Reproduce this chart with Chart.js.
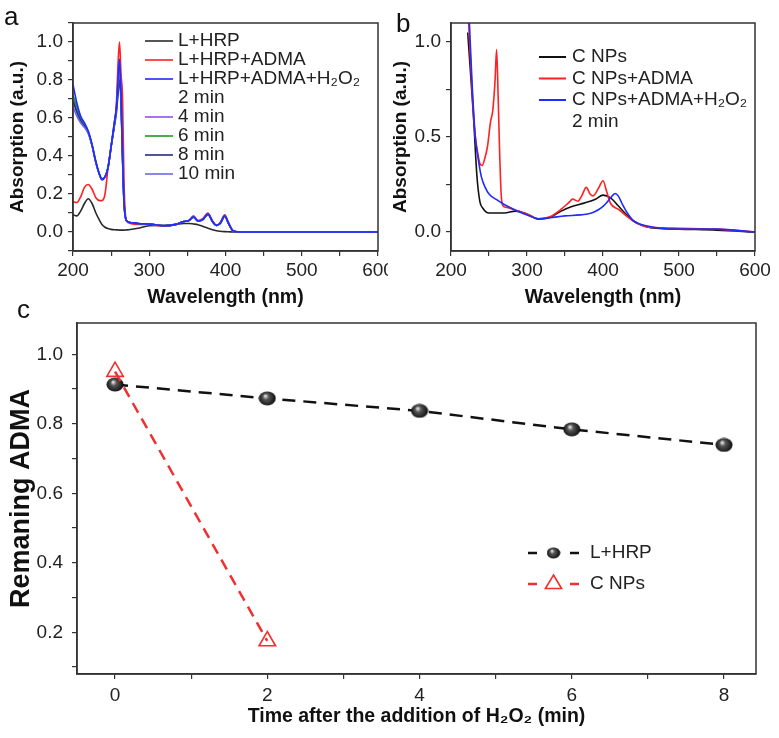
<!DOCTYPE html>
<html>
<head>
<meta charset="utf-8">
<script src="https://cdn.jsdelivr.net/npm/chart.js@4.4.1/dist/chart.umd.min.js"></script>
<style>
  body { margin: 0; background: #fff; width: 779px; height: 738px; position: relative; overflow: hidden; }
  canvas { position: absolute; }
</style>
</head>
<body>
<canvas id="chartA" width="388" height="310" style="left:0;top:0"></canvas>
<canvas id="chartB" width="396" height="310" style="left:383px;top:0"></canvas>
<canvas id="chartC" width="779" height="438" style="left:0;top:300px"></canvas>
<script>
// ---- panel a: L+HRP spectra ----
const wlA = [200, 205, 210, 215, 220, 225, 230, 235, 238, 242, 246, 250, 254, 257, 259, 261, 263, 265, 267, 270, 275, 285, 300, 320, 335, 345, 352, 358, 364, 370, 377, 383, 388, 393, 399, 404, 410, 420, 600];
const absLHRP = [0.09, 0.085, 0.11, 0.15, 0.175, 0.15, 0.10, 0.06, 0.04, 0.025, 0.018, 0.014, 0.012, 0.011, 0.011, 0.010, 0.010, 0.010, 0.010, 0.011, 0.013, 0.020, 0.033, 0.035, 0.040, 0.045, 0.045, 0.042, 0.038, 0.030, 0.020, 0.012, 0.007, 0.004, 0.002, 0.001, 0, 0, 0];
const absADMA = [0.16, 0.155, 0.185, 0.235, 0.25, 0.225, 0.18, 0.165, 0.165, 0.20, 0.34, 0.45, 0.56, 0.68, 0.88, 1.0, 0.83, 0.70, 0.25, 0.06, 0.045, 0.04, 0.04, 0.03, 0.04, 0.055, 0.06, 0.085, 0.06, 0.07, 0.10, 0.06, 0.035, 0.05, 0.09, 0.05, 0.008, 0, 0];
const abs2min = [0.775, 0.68, 0.61, 0.575, 0.53, 0.46, 0.37, 0.30, 0.275, 0.29, 0.34, 0.45, 0.57, 0.66, 0.80, 0.91, 0.72, 0.40, 0.15, 0.06, 0.05, 0.045, 0.042, 0.033, 0.04, 0.055, 0.06, 0.08, 0.058, 0.065, 0.095, 0.055, 0.035, 0.045, 0.085, 0.045, 0.006, 0, 0];
const abs4min = [0.70, 0.64, 0.59, 0.56, 0.525, 0.455, 0.365, 0.30, 0.275, 0.29, 0.34, 0.45, 0.57, 0.66, 0.79, 0.90, 0.71, 0.40, 0.15, 0.06, 0.05, 0.045, 0.042, 0.033, 0.04, 0.055, 0.06, 0.08, 0.058, 0.065, 0.095, 0.055, 0.035, 0.045, 0.085, 0.045, 0.006, 0, 0];
const abs6min = [0.72, 0.66, 0.60, 0.57, 0.53, 0.46, 0.37, 0.30, 0.278, 0.29, 0.34, 0.45, 0.56, 0.65, 0.76, 0.86, 0.70, 0.39, 0.15, 0.06, 0.05, 0.045, 0.042, 0.033, 0.04, 0.055, 0.06, 0.078, 0.057, 0.064, 0.093, 0.054, 0.035, 0.045, 0.083, 0.044, 0.006, 0, 0];
const abs8min = [0.69, 0.63, 0.585, 0.555, 0.52, 0.455, 0.365, 0.30, 0.28, 0.29, 0.34, 0.45, 0.55, 0.63, 0.72, 0.80, 0.68, 0.38, 0.15, 0.06, 0.05, 0.045, 0.042, 0.033, 0.04, 0.055, 0.06, 0.078, 0.057, 0.064, 0.093, 0.054, 0.035, 0.045, 0.083, 0.044, 0.006, 0, 0];
const abs10min = [0.66, 0.61, 0.575, 0.55, 0.52, 0.455, 0.365, 0.30, 0.275, 0.29, 0.34, 0.45, 0.56, 0.65, 0.78, 0.88, 0.70, 0.39, 0.15, 0.06, 0.05, 0.045, 0.042, 0.033, 0.04, 0.055, 0.06, 0.08, 0.058, 0.065, 0.095, 0.055, 0.035, 0.045, 0.085, 0.045, 0.006, 0, 0];

// ---- panel b: C NPs spectra ----
const wlCNP = [222, 226, 230, 234, 238, 242, 246, 250, 260, 270, 285, 300, 315, 330, 345, 360, 375, 390, 400, 410, 420, 430, 440, 460, 480, 500, 550, 600];
const absCNP = [1.05, 0.82, 0.58, 0.30, 0.16, 0.125, 0.106, 0.10, 0.10, 0.10, 0.11, 0.095, 0.068, 0.076, 0.11, 0.135, 0.152, 0.172, 0.194, 0.18, 0.138, 0.095, 0.058, 0.025, 0.018, 0.015, 0.01, 0.0];
const wlCNPADMA = [223, 227, 231, 235, 238, 241, 244, 248, 252, 255, 258, 260, 262, 264, 266, 268, 272, 285, 300, 315, 330, 345, 355, 360, 367, 372, 378, 383, 387, 394, 400, 405, 410, 420, 440, 460, 500, 550, 600];
const absCNPADMA = [1.12, 0.80, 0.54, 0.42, 0.36, 0.35, 0.38, 0.45, 0.58, 0.64, 0.80, 0.96, 0.72, 0.42, 0.20, 0.14, 0.13, 0.115, 0.095, 0.07, 0.08, 0.12, 0.155, 0.173, 0.162, 0.19, 0.235, 0.20, 0.19, 0.23, 0.27, 0.21, 0.15, 0.12, 0.058, 0.025, 0.02, 0.015, 0.0];
const wlCNPH2O2 = [224, 228, 232, 236, 240, 245, 250, 260, 270, 285, 300, 315, 330, 350, 370, 385, 395, 400, 405, 410, 416, 420, 425, 432, 440, 460, 500, 550, 600];
const absCNPH2O2 = [1.12, 0.76, 0.50, 0.38, 0.29, 0.235, 0.20, 0.17, 0.145, 0.115, 0.09, 0.07, 0.075, 0.085, 0.09, 0.10, 0.12, 0.135, 0.155, 0.18, 0.203, 0.19, 0.15, 0.10, 0.06, 0.03, 0.015, 0.015, 0.0];

// ---- panel c: remaining ADMA ----
const timeLHRP = [0, 2, 4, 6, 8];
const remainLHRP = [0.913, 0.873, 0.837, 0.784, 0.739];
const timeCNP = [0, 2];
const remainCNP = [0.95, 0.175];

const FONT = '"Liberation Sans", Arial, sans-serif';

function pts(xs, ys) {
  return xs.map((x, i) => ({ x: x, y: ys[i] }));
}

function spectrum(label, xs, ys, color, order) {
  return {
    label: label,
    data: pts(xs, ys),
    borderColor: color,
    borderWidth: 1.6,
    pointRadius: 0,
    fill: false,
    cubicInterpolationMode: 'monotone',
    order: order
  };
}

function makeScale(o) {
  return {
    type: 'linear',
    min: o.min,
    max: o.max,
    afterFit: function (scale) {
      if (scale.isHorizontal()) scale.height = o.size;
      else scale.width = o.size;
      scale.paddingLeft = 0;
      scale.paddingRight = 0;
      scale.paddingTop = 0;
      scale.paddingBottom = 0;
    },
    border: { display: true, color: '#333', width: 1.5 },
    grid: { drawOnChartArea: false, drawTicks: true, tickLength: 5, color: '#333', lineWidth: 1.2 },
    ticks: {
      stepSize: o.step,
      includeBounds: false,
      autoSkip: false,
      maxRotation: 0,
      padding: o.pad,
      color: '#222',
      font: { family: FONT, size: o.tickSize },
      callback: o.label
    },
    title: {
      display: true,
      text: o.title,
      color: '#111',
      font: { family: FONT, size: o.titleSize, weight: 'bold' },
      padding: o.titlePad
    }
  };
}

// frame, panel letter and legend
const decor = {
  id: 'decor',
  afterDraw(chart, args, opts) {
    const ctx = chart.ctx;
    const a = chart.chartArea;
    ctx.save();
    ctx.strokeStyle = '#333';
    ctx.lineWidth = 1.5;
    ctx.setLineDash([]);
    ctx.strokeRect(a.left, a.top, a.right - a.left, a.bottom - a.top);

    ctx.fillStyle = '#111';
    ctx.font = '26px ' + FONT;
    ctx.textBaseline = 'alphabetic';
    ctx.fillText(opts.letter, opts.letterX, opts.letterY);

    ctx.font = opts.legendSize + 'px ' + FONT;
    ctx.textBaseline = 'middle';
    opts.items.forEach((item, i) => {
      const y = opts.legendY + i * opts.legendGap;
      if (item.color) {
        ctx.strokeStyle = item.color;
        ctx.lineWidth = opts.lineWidth;
        if (item.marker) {
          ctx.beginPath();
          ctx.moveTo(opts.lineX0, y);
          ctx.lineTo(opts.lineX0 + 9, y);
          ctx.moveTo(opts.lineX1 - 9, y);
          ctx.lineTo(opts.lineX1, y);
          ctx.stroke();
          const mx = (opts.lineX0 + opts.lineX1) / 2;
          if (item.marker === 'sphere') {
            ctx.drawImage(sphere, mx - 7, y - 6, 14, 12);
          } else {
            const r = 9;
            ctx.lineWidth = 1.6;
            ctx.beginPath();
            ctx.moveTo(mx, y - r);
            ctx.lineTo(mx + r * 0.9, y + r / 2);
            ctx.lineTo(mx - r * 0.9, y + r / 2);
            ctx.closePath();
            ctx.stroke();
          }
        } else {
          ctx.beginPath();
          ctx.moveTo(opts.lineX0, y);
          ctx.lineTo(opts.lineX1, y);
          ctx.stroke();
        }
      }
      ctx.fillStyle = '#222';
      ctx.fillText(item.text, opts.textX, y);
    });
    ctx.restore();
  }
};

function makeSphere() {
  const c = document.createElement('canvas');
  c.width = 18;
  c.height = 15;
  const g = c.getContext('2d');
  const grad = g.createRadialGradient(7, 5, 0.5, 9, 7.5, 9);
  grad.addColorStop(0, '#e0e0e0');
  grad.addColorStop(0.3, '#555');
  grad.addColorStop(1, '#050505');
  g.fillStyle = grad;
  g.beginPath();
  g.ellipse(9, 7.5, 8.5, 7, 0, 0, Math.PI * 2);
  g.fill();
  return c;
}
const sphere = makeSphere();

const baseOptions = {
  responsive: false,
  animation: false,
  events: []
};

const labelA_Y = (v) => {
  const k = Math.round(v * 10);
  return (k % 2 === 0 && k >= 0 && k <= 10) ? (k / 10).toFixed(1) : '';
};
const labelWl = (v) => (v % 100 === 0 ? String(v) : '');

new Chart(document.getElementById('chartA'), {
  type: 'line',
  data: {
    datasets: [
      spectrum('L+HRP+ADMA+H\u2082O\u2082 2 min', wlA, abs2min, '#1f2bff', 0),
      spectrum('10 min', wlA, abs10min, '#6a6af0', 1),
      spectrum('8 min', wlA, abs8min, '#2a2a80', 2),
      spectrum('6 min', wlA, abs6min, '#1c9a1c', 3),
      spectrum('4 min', wlA, abs4min, '#9050f0', 4),
      spectrum('L+HRP+ADMA', wlA, absADMA, '#ff2020', 5),
      spectrum('L+HRP', wlA, absLHRP, '#2a2a2a', 6)
    ]
  },
  options: Object.assign({}, baseOptions, {
    layout: { padding: { left: 0, top: 23, right: 10, bottom: 0 } },
    scales: {
      x: makeScale({ min: 200, max: 600, step: 50, size: 59, pad: 3, tickSize: 19, label: labelWl,
        title: 'Wavelength (nm)', titleSize: 19.5, titlePad: { top: 0, bottom: 1 } }),
      y: makeScale({ min: -0.1, max: 1.1, step: 0.1, size: 73, pad: 5, tickSize: 19, label: labelA_Y,
        title: 'Absorption (a.u.)', titleSize: 19, titlePad: { top: 6, bottom: 0 } })
    },
    plugins: {
      legend: { display: false },
      tooltip: { enabled: false },
      decor: {
        letter: 'a', letterX: 4, letterY: 25,
        legendSize: 19, legendY: 41, legendGap: 19, lineX0: 145, lineX1: 173, textX: 178, lineWidth: 1.6,
        items: [
          { text: 'L+HRP', color: '#2a2a2a' },
          { text: 'L+HRP+ADMA', color: '#ff2020' },
          { text: 'L+HRP+ADMA+H\u2082O\u2082', color: '#1f2bff' },
          { text: '2 min' },
          { text: '4 min', color: '#9050f0' },
          { text: '6 min', color: '#1c9a1c' },
          { text: '8 min', color: '#2a2a80' },
          { text: '10 min', color: '#6a6af0' }
        ]
      }
    }
  }),
  plugins: [decor]
});

new Chart(document.getElementById('chartB'), {
  type: 'line',
  data: {
    datasets: [
      spectrum('C NPs+ADMA+H\u2082O\u2082 2 min', wlCNPH2O2, absCNPH2O2, '#1f2bff', 0),
      spectrum('C NPs+ADMA', wlCNPADMA, absCNPADMA, '#ff2020', 1),
      spectrum('C NPs', wlCNP, absCNP, '#111111', 2)
    ]
  },
  options: Object.assign({}, baseOptions, {
    layout: { padding: { left: 0, top: 23, right: 24, bottom: 0 } },
    scales: {
      x: makeScale({ min: 200, max: 600, step: 50, size: 59, pad: 3, tickSize: 19, label: labelWl,
        title: 'Wavelength (nm)', titleSize: 19.5, titlePad: { top: 0, bottom: 1 } }),
      y: makeScale({ min: -0.1, max: 1.1, step: 0.25, size: 68, pad: 5, tickSize: 19,
        label: (v) => (Math.round(v * 4) % 2 === 0 ? v.toFixed(1) : ''),
        title: 'Absorption (a.u.)', titleSize: 19, titlePad: { top: 6, bottom: 0 } })
    },
    plugins: {
      legend: { display: false },
      tooltip: { enabled: false },
      decor: {
        letter: 'b', letterX: 13, letterY: 32,
        legendSize: 19, legendY: 57, legendGap: 21.5, lineX0: 156, lineX1: 183, textX: 189, lineWidth: 2,
        items: [
          { text: 'C NPs', color: '#111111' },
          { text: 'C NPs+ADMA', color: '#ff2020' },
          { text: 'C NPs+ADMA+H\u2082O\u2082', color: '#1f2bff' },
          { text: '2 min' }
        ]
      }
    }
  }),
  plugins: [decor]
});

new Chart(document.getElementById('chartC'), {
  type: 'line',
  data: {
    datasets: [
      {
        label: 'C NPs',
        data: pts(timeCNP, remainCNP),
        borderColor: '#f03030',
        borderWidth: 2.5,
        borderDash: [11, 7],
        pointStyle: 'triangle',
        pointRadius: 9.5,
        pointBorderWidth: 1.6,
        pointBorderColor: '#f03030',
        pointBackgroundColor: 'rgba(255,255,255,0)',
        fill: false,
        order: 0
      },
      {
        label: 'L+HRP',
        data: pts(timeLHRP, remainLHRP),
        borderColor: '#111111',
        borderWidth: 2.5,
        borderDash: [13, 8],
        pointStyle: sphere,
        pointRadius: 8,
        fill: false,
        order: 1
      }
    ]
  },
  options: Object.assign({}, baseOptions, {
    layout: { padding: { left: 0, top: 23, right: 23, bottom: 0 } },
    scales: {
      x: makeScale({ min: -0.5, max: 8.42, step: 1, size: 64, pad: 5, tickSize: 19,
        label: (v) => (v % 2 === 0 ? String(v) : ''),
        title: 'Time after the addition of H\u2082O\u2082 (min)', titleSize: 19.5, titlePad: { top: 0, bottom: 10 } }),
      y: makeScale({ min: 0.08, max: 1.09, step: 0.1, size: 77, pad: 9, tickSize: 19,
        label: (v) => { const k = Math.round(v * 10); return k % 2 === 0 ? (k / 10).toFixed(1) : ''; },
        title: 'Remaning ADMA', titleSize: 27, titlePad: { top: 5, bottom: 0 } })
    },
    plugins: {
      legend: { display: false },
      tooltip: { enabled: false },
      decor: {
        letter: 'c', letterX: 17, letterY: 18,
        legendSize: 19, legendY: 253, legendGap: 31, lineX0: 528, lineX1: 579, textX: 590, lineWidth: 2.5,
        items: [
          { text: 'L+HRP', color: '#111111', marker: 'sphere' },
          { text: 'C NPs', color: '#f03030', marker: 'triangle' }
        ]
      }
    }
  }),
  plugins: [decor]
});
</script>
</body>
</html>
